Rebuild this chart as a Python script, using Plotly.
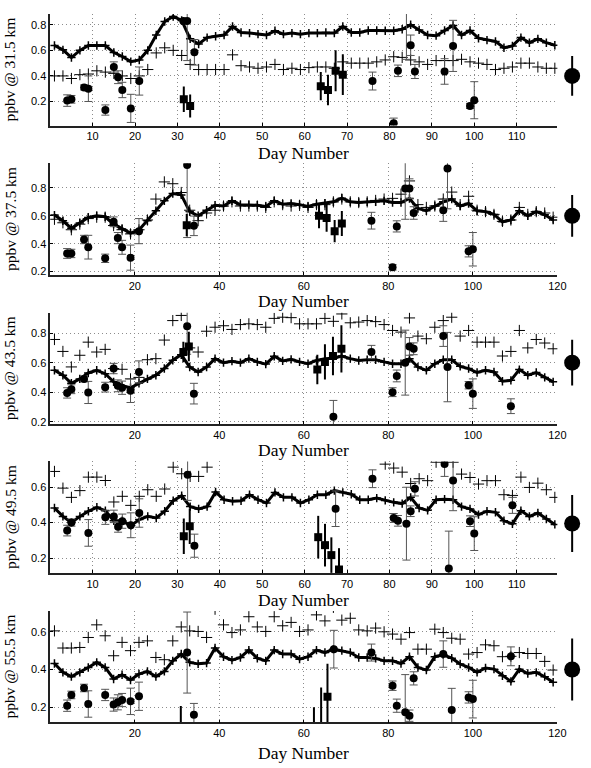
import plotly.graph_objects as go

DAYS = list(range(1, 120, 2))  # model output days (odd days 1..119)

# ---------------- Panel 1 : 31.5 km ----------------
P1_THICK = [0.638, 0.604, 0.544, 0.600, 0.638, 0.638, 0.638, 0.583, 0.552, 0.512,
            0.525, 0.600, 0.720, 0.826, 0.865, 0.834, 0.690, 0.650, 0.700, 0.710,
            0.720, 0.787, 0.740, 0.735, 0.727, 0.720, 0.753, 0.727, 0.735, 0.727,
            0.735, 0.735, 0.740, 0.735, 0.787, 0.740, 0.740, 0.755, 0.755, 0.753,
            0.753, 0.765, 0.800, 0.760, 0.720, 0.715, 0.755, 0.795, 0.720, 0.755,
            0.695, 0.680, 0.670, 0.620, 0.635, 0.700, 0.660, 0.690, 0.660, 0.640]
P1_THIN = [0.400, 0.400, 0.380, 0.410, 0.415, 0.440, 0.430, 0.420, 0.400, 0.380,
           0.400, 0.450, 0.580, 0.620, 0.600, 0.560, 0.490, 0.450, 0.450, 0.450,
           0.450, 0.565, 0.480, 0.470, 0.460, 0.470, 0.490, 0.450, 0.460, 0.450,
           0.465, 0.470, 0.470, 0.460, 0.510, 0.500, 0.500, 0.500, 0.510, 0.525,
           0.550, 0.545, 0.525, 0.510, 0.490, 0.520, 0.520, 0.520, 0.530, 0.510,
           0.500, 0.490, 0.450, 0.460, 0.470, 0.500, 0.500, 0.470, 0.460, 0.460]
P1_CIRC_DAY = [4, 5, 8, 9, 13, 15, 16, 17, 19, 21, 31.4, 32.3, 34, 76, 81, 82, 84, 85, 86, 93, 95, 99, 100]
P1_CIRC_VAL = [0.207, 0.217, 0.31, 0.30, 0.133, 0.47, 0.39, 0.29, 0.146, 0.36, 0.83, 0.83, 0.585,
               0.36, 0.03, 0.44, 0.95, 0.64, 0.435, 0.435, 0.635, 0.165, 0.21]
P1_CIRC_ERR = [0.045, 0.03, 0.02, 0.1, 0.04, 0.04, 0.05, 0.06, 0.11, 0.11, 0.0, 0.31, 0.1,
               0.07, 0.04, 0.045, 0.42, 0.08, 0.055, 0.1, 0.2, 0.02, 0.145]
P1_SQ_DAY = [31.5, 33, 63.8, 65.5, 67.3, 69]
P1_SQ_VAL = [0.217, 0.165, 0.32, 0.29, 0.44, 0.41]
P1_SQ_ERR = [0.1, 0.09, 0.11, 0.12, 0.16, 0.16]

# ---------------- Panel 2 : 37.5 km ----------------
P2_THICK = [0.605, 0.564, 0.510, 0.548, 0.588, 0.600, 0.593, 0.540, 0.505, 0.476,
            0.498, 0.564, 0.636, 0.707, 0.760, 0.750, 0.630, 0.600, 0.640, 0.676,
            0.670, 0.707, 0.680, 0.680, 0.676, 0.667, 0.707, 0.683, 0.688, 0.680,
            0.667, 0.683, 0.690, 0.700, 0.726, 0.700, 0.695, 0.700, 0.700, 0.707,
            0.695, 0.695, 0.724, 0.652, 0.636, 0.670, 0.700, 0.720, 0.670, 0.688,
            0.636, 0.630, 0.610, 0.557, 0.570, 0.636, 0.600, 0.630, 0.607, 0.570]
P2_THIN = [0.575, 0.550, 0.500, 0.540, 0.580, 0.590, 0.590, 0.530, 0.500, 0.470,
           0.500, 0.570, 0.720, 0.843, 0.830, 0.767, 0.640, 0.565, 0.620, 0.640,
           0.670, 0.700, 0.670, 0.670, 0.670, 0.660, 0.700, 0.680, 0.670, 0.675,
           0.660, 0.680, 0.680, 0.700, 0.720, 0.700, 0.695, 0.700, 0.710, 0.720,
           0.725, 0.755, 0.850, 0.680, 0.660, 0.670, 0.720, 0.770, 0.680, 0.740,
           0.640, 0.630, 0.610, 0.560, 0.570, 0.660, 0.610, 0.630, 0.620, 0.590]
P2_CIRC_DAY = [4, 5, 8, 9, 13, 15, 16, 17, 19, 21, 32.4, 34, 76, 81, 82, 84, 85, 86, 93, 94, 99, 100]
P2_CIRC_VAL = [0.33, 0.33, 0.43, 0.375, 0.295, 0.557, 0.44, 0.374, 0.30, 0.49, 0.964, 0.528,
               0.565, 0.231, 0.524, 0.795, 0.795, 0.62, 0.64, 0.94, 0.345, 0.36]
P2_CIRC_ERR = [0.035, 0.03, 0.03, 0.085, 0.03, 0.035, 0.04, 0.05, 0.09, 0.09, 0.52, 0.07,
               0.06, 0.02, 0.04, 0.22, 0.07, 0.045, 0.08, 0.29, 0.04, 0.12]
P2_SQ_DAY = [32.3, 63.6, 65.4, 67.3, 69]
P2_SQ_VAL = [0.533, 0.60, 0.585, 0.49, 0.545]
P2_SQ_ERR = [0.08, 0.09, 0.1, 0.08, 0.09]

# ---------------- Panel 3 : 43.5 km ----------------
P3_THICK = [0.548, 0.515, 0.460, 0.490, 0.530, 0.548, 0.525, 0.470, 0.443, 0.430,
            0.460, 0.490, 0.515, 0.560, 0.616, 0.654, 0.570, 0.537, 0.570, 0.627,
            0.600, 0.610, 0.600, 0.627, 0.605, 0.590, 0.643, 0.612, 0.622, 0.605,
            0.593, 0.615, 0.627, 0.630, 0.645, 0.627, 0.615, 0.620, 0.620, 0.605,
            0.593, 0.593, 0.627, 0.570, 0.548, 0.593, 0.620, 0.620, 0.575, 0.560,
            0.533, 0.548, 0.537, 0.474, 0.480, 0.553, 0.515, 0.533, 0.500, 0.470]
P3_THIN = [0.757, 0.676, 0.571, 0.650, 0.739, 0.672, 0.690, 0.560, 0.555, 0.490,
           0.500, 0.620, 0.627, 0.753, 0.885, 0.920, 0.700, 0.672, 0.813, 0.840,
           0.850, 0.825, 0.858, 0.863, 0.858, 0.840, 0.900, 0.908, 0.905, 0.863,
           0.863, 0.863, 0.900, 0.880, 0.930, 0.870, 0.875, 0.885, 0.878, 0.858,
           0.818, 0.807, 0.903, 0.780, 0.762, 0.840, 0.885, 0.908, 0.780, 0.818,
           0.739, 0.739, 0.739, 0.645, 0.676, 0.818, 0.700, 0.757, 0.733, 0.694]
P3_CIRC_DAY = [4, 5, 8, 9, 13, 15, 16, 17, 19, 21, 32.4, 34, 67, 76, 81, 82, 84, 85, 86, 93, 94, 99, 100, 109]
P3_CIRC_VAL = [0.395, 0.42, 0.49, 0.398, 0.434, 0.56, 0.443, 0.43, 0.41, 0.537, 0.847, 0.39,
               0.234, 0.672, 0.40, 0.51, 0.60, 0.71, 0.694, 0.78, 0.57, 0.447, 0.39, 0.305]
P3_CIRC_ERR = [0.035, 0.03, 0.02, 0.075, 0.033, 0.035, 0.04, 0.045, 0.08, 0.075, 0.19, 0.07,
               0.11, 0.045, 0.03, 0.04, 0.22, 0.06, 0.04, 0.07, 0.235, 0.025, 0.1, 0.05]
P3_SQ_DAY = [31.5, 32.8, 63.2, 65, 66.9, 68.9]
P3_SQ_VAL = [0.672, 0.71, 0.553, 0.605, 0.645, 0.694]
P3_SQ_ERR = [0.07, 0.1, 0.1, 0.12, 0.13, 0.16]

# ---------------- Panel 4 : 49.5 km ----------------
P4_THICK = [0.482, 0.435, 0.400, 0.435, 0.464, 0.486, 0.467, 0.410, 0.410, 0.383,
            0.417, 0.435, 0.426, 0.464, 0.523, 0.551, 0.490, 0.477, 0.490, 0.572,
            0.529, 0.520, 0.523, 0.557, 0.529, 0.510, 0.570, 0.542, 0.542, 0.510,
            0.529, 0.557, 0.557, 0.580, 0.570, 0.560, 0.529, 0.529, 0.538, 0.525,
            0.514, 0.507, 0.542, 0.482, 0.469, 0.529, 0.532, 0.529, 0.490, 0.477,
            0.445, 0.464, 0.458, 0.410, 0.393, 0.467, 0.435, 0.454, 0.420, 0.390]
P4_THIN = [0.688, 0.594, 0.542, 0.580, 0.656, 0.656, 0.637, 0.516, 0.548, 0.497,
           0.548, 0.585, 0.548, 0.589, 0.712, 0.675, 0.660, 0.660, 0.712, 0.800,
           0.800, 0.800, 0.800, 0.800, 0.800, 0.800, 0.800, 0.800, 0.800, 0.800,
           0.800, 0.800, 0.800, 0.800, 0.800, 0.800, 0.800, 0.800, 0.800, 0.729,
           0.707, 0.684, 0.620, 0.647, 0.636, 0.740, 0.800, 0.740, 0.673, 0.654,
           0.617, 0.636, 0.636, 0.557, 0.553, 0.656, 0.598, 0.622, 0.585, 0.542]
P4_CIRC_DAY = [4, 5, 9, 13, 15, 16, 17, 19, 21, 32.4, 34, 67.3, 76, 81, 82, 84, 85, 86, 93, 94, 95, 99, 100, 109]
P4_CIRC_VAL = [0.355, 0.40, 0.342, 0.43, 0.435, 0.376, 0.408, 0.385, 0.454, 0.67, 0.27, 0.478,
               0.647, 0.426, 0.41, 0.394, 0.464, 0.59, 0.73, 0.142, 0.637, 0.408, 0.338, 0.497]
P4_CIRC_ERR = [0.03, 0.02, 0.075, 0.04, 0.035, 0.03, 0.04, 0.07, 0.08, 0.145, 0.065, 0.1,
               0.05, 0.025, 0.03, 0.205, 0.03, 0.04, 0.07, 0.21, 0.17, 0.03, 0.095, 0.045]
P4_SQ_DAY = [31.5, 32.9, 63.2, 64.8, 66.3, 68.1]
P4_SQ_VAL = [0.323, 0.38, 0.318, 0.273, 0.217, 0.136]
P4_SQ_ERR = [0.1, 0.1, 0.12, 0.12, 0.1, 0.12]

# ---------------- Panel 5 : 55.5 km ----------------
P5_THICK = [0.432, 0.385, 0.362, 0.385, 0.411, 0.438, 0.411, 0.350, 0.372, 0.344,
            0.376, 0.390, 0.363, 0.390, 0.446, 0.482, 0.438, 0.430, 0.434, 0.514,
            0.468, 0.450, 0.464, 0.503, 0.460, 0.446, 0.503, 0.482, 0.482, 0.455,
            0.468, 0.503, 0.490, 0.508, 0.500, 0.490, 0.464, 0.464, 0.459, 0.446,
            0.446, 0.432, 0.468, 0.411, 0.397, 0.468, 0.478, 0.460, 0.429, 0.411,
            0.385, 0.408, 0.402, 0.367, 0.337, 0.402, 0.379, 0.385, 0.362, 0.332]
P5_THIN = [0.605, 0.514, 0.514, 0.517, 0.570, 0.637, 0.579, 0.473, 0.544, 0.500,
           0.544, 0.552, 0.464, 0.452, 0.552, 0.626, 0.605, 0.602, 0.570, 0.720,
           0.637, 0.596, 0.610, 0.680, 0.626, 0.602, 0.680, 0.632, 0.650, 0.602,
           0.610, 0.690, 0.658, 0.730, 0.662, 0.672, 0.610, 0.605, 0.620, 0.600,
           0.588, 0.561, 0.596, 0.508, 0.508, 0.614, 0.596, 0.566, 0.561, 0.482,
           0.490, 0.531, 0.526, 0.468, 0.470, 0.490, 0.485, 0.485, 0.443, 0.397]
P5_CIRC_DAY = [4, 5, 8, 9, 13, 15, 16, 17, 19, 21, 32.4, 34, 67.1, 76, 81, 82, 84, 85, 86, 93, 95, 99, 100, 109]
P5_CIRC_VAL = [0.208, 0.265, 0.302, 0.217, 0.265, 0.214, 0.226, 0.238, 0.231, 0.258, 0.49, 0.16,
               0.508, 0.49, 0.314, 0.208, 0.173, 0.155, 0.353, 0.482, 0.185, 0.252, 0.243, 0.47]
P5_CIRC_ERR = [0.03, 0.02, 0.02, 0.07, 0.03, 0.035, 0.04, 0.035, 0.07, 0.075, 0.215, 0.06,
               0.1, 0.045, 0.025, 0.035, 0.2, 0.03, 0.035, 0.07, 0.115, 0.03, 0.1, 0.05]
P5_SQ_DAY = [30.9, 62.4, 64.1, 65.6]
P5_SQ_VAL = [0.0, 0.0, 0.0, 0.256]
P5_SQ_ERR = [0.207, 0.2, 0.305, 0.174]

# representative error point at the right of each panel
REF_VAL = [0.40, 0.60, 0.60, 0.395, 0.40]
REF_ERR = [0.155, 0.15, 0.155, 0.16, 0.165]

ALTS = ["31.5", "37.5", "43.5", "49.5", "55.5"]
Y_RANGES = [[0.012, 0.885], [0.176, 0.976], [0.184, 0.938], [0.116, 0.744], [0.119, 0.711]]
Y_TICKS = [[0.2, 0.4, 0.6, 0.8], [0.2, 0.4, 0.6, 0.8], [0.2, 0.4, 0.6, 0.8], [0.2, 0.4, 0.6], [0.2, 0.4, 0.6]]
X_RANGES = [[0, 119.6], [0, 120], [0, 120], [0, 119.6], [0, 120]]
X_TICKS = [[10, 20, 30, 40, 50, 60, 70, 80, 90, 100, 110],
           [20, 40, 60, 80, 100, 120],
           [20, 40, 60, 80, 100, 120],
           [10, 20, 30, 40, 50, 60, 70, 80, 90, 100, 110],
           [20, 40, 60, 80, 100, 120]]

panels = [
    (P1_THICK, P1_THIN, P1_CIRC_DAY, P1_CIRC_VAL, P1_CIRC_ERR, P1_SQ_DAY, P1_SQ_VAL, P1_SQ_ERR),
    (P2_THICK, P2_THIN, P2_CIRC_DAY, P2_CIRC_VAL, P2_CIRC_ERR, P2_SQ_DAY, P2_SQ_VAL, P2_SQ_ERR),
    (P3_THICK, P3_THIN, P3_CIRC_DAY, P3_CIRC_VAL, P3_CIRC_ERR, P3_SQ_DAY, P3_SQ_VAL, P3_SQ_ERR),
    (P4_THICK, P4_THIN, P4_CIRC_DAY, P4_CIRC_VAL, P4_CIRC_ERR, P4_SQ_DAY, P4_SQ_VAL, P4_SQ_ERR),
    (P5_THICK, P5_THIN, P5_CIRC_DAY, P5_CIRC_VAL, P5_CIRC_ERR, P5_SQ_DAY, P5_SQ_VAL, P5_SQ_ERR),
]

W, H = 591, 768
# pixel geometry of each panel (top, bottom)
PANEL_PX = [(14, 126), (164, 276), (314, 425.7), (463.3, 575.3), (613.3, 725.3)]
XTITLE_PX = [153.5, 302.5, 452, 602, 755.5]
AX_L, AX_R = 51, 566

fig = go.Figure()
layout = dict(width=W, height=H, margin=dict(l=0, r=0, t=0, b=0),
              paper_bgcolor="white", plot_bgcolor="white", showlegend=False,
              annotations=[])

TICKFONT = dict(family="Liberation Sans, Arial, sans-serif", size=11, color="black")
SERIF = "Liberation Serif, Times New Roman, serif"
GRID = dict(showgrid=True, gridcolor="#8c8c8c", griddash="1px,3px", gridwidth=1)

for k, (thick, thin, cd, cv, ce, sd, sv, se) in enumerate(panels):
    n = k + 1
    xa = "x" if n == 1 else f"x{n}"
    ya = "y" if n == 1 else f"y{n}"
    xr, yr = f"x{n + 5}", f"y{n + 5}"
    top, bot = PANEL_PX[k]
    ydom = [1 - bot / H, 1 - top / H]

    fig.add_trace(go.Scatter(x=DAYS, y=thin, mode="markers", xaxis=xa, yaxis=ya,
                             marker=dict(symbol="cross-thin-open", size=8, color="black",
                                         line=dict(width=1, color="black"))))
    fig.add_trace(go.Scatter(x=DAYS, y=thick, mode="lines+markers", xaxis=xa, yaxis=ya,
                             line=dict(color="black", width=3),
                             marker=dict(symbol="cross-thin-open", size=6, color="black",
                                         line=dict(width=1.5, color="black"))))
    fig.add_trace(go.Scatter(x=cd, y=cv, mode="markers", xaxis=xa, yaxis=ya,
                             marker=dict(symbol="circle", size=8, color="black"),
                             error_y=dict(type="data", array=ce, visible=True,
                                          color="#555555", thickness=1, width=4)))
    fig.add_trace(go.Scatter(x=sd, y=sv, mode="markers", xaxis=xa, yaxis=ya,
                             marker=dict(symbol="square", size=8, color="black"),
                             error_y=dict(type="data", array=se, visible=True,
                                          color="black", thickness=2, width=0)))
    fig.add_trace(go.Scatter(x=[0.5], y=[REF_VAL[k]], mode="markers", xaxis=xr, yaxis=yr,
                             marker=dict(symbol="circle", size=16, color="black"),
                             error_y=dict(type="data", array=[REF_ERR[k]], visible=True,
                                          color="black", thickness=2, width=0)))

    axkey_x = "xaxis" if n == 1 else f"xaxis{n}"
    axkey_y = "yaxis" if n == 1 else f"yaxis{n}"
    layout[axkey_x] = dict(domain=[AX_L / W, AX_R / W], anchor=ya, range=X_RANGES[k],
                           tickvals=X_TICKS[k], ticks="inside", ticklen=3, tickcolor="black",
                           showline=True, linecolor="#222222", linewidth=1.5, zeroline=False,
                           tickfont=TICKFONT, **GRID)
    layout[axkey_y] = dict(domain=ydom, anchor=xa, range=Y_RANGES[k],
                           tickvals=Y_TICKS[k], ticktext=[f"{v:.1f}" for v in Y_TICKS[k]],
                           ticks="inside", ticklen=3, tickcolor="black",
                           showline=True, linecolor="#222222", linewidth=1.5, zeroline=False,
                           tickfont=TICKFONT, **GRID)
    layout[f"xaxis{n + 5}"] = dict(domain=[571 / W, 1.0], anchor=yr, range=[0, 1], visible=False)
    layout[f"yaxis{n + 5}"] = dict(domain=ydom, anchor=xr, range=Y_RANGES[k], visible=False)

    layout["annotations"].append(dict(
        text=f"ppbv @ {ALTS[k]} km", xref="paper", yref="paper",
        x=10 / W, y=1 - (top + bot) / 2 / H, xanchor="center", yanchor="middle",
        textangle=-90, showarrow=False, font=dict(family=SERIF, size=15.5, color="black")))
    layout["annotations"].append(dict(
        text="Day Number", xref="paper", yref="paper",
        x=(AX_L + AX_R) / 2 / W, y=1 - XTITLE_PX[k] / H, xanchor="center", yanchor="middle",
        showarrow=False, font=dict(family=SERIF, size=17.5, color="black")))

fig.update_layout(**layout)
fig.write_html("out.html")
